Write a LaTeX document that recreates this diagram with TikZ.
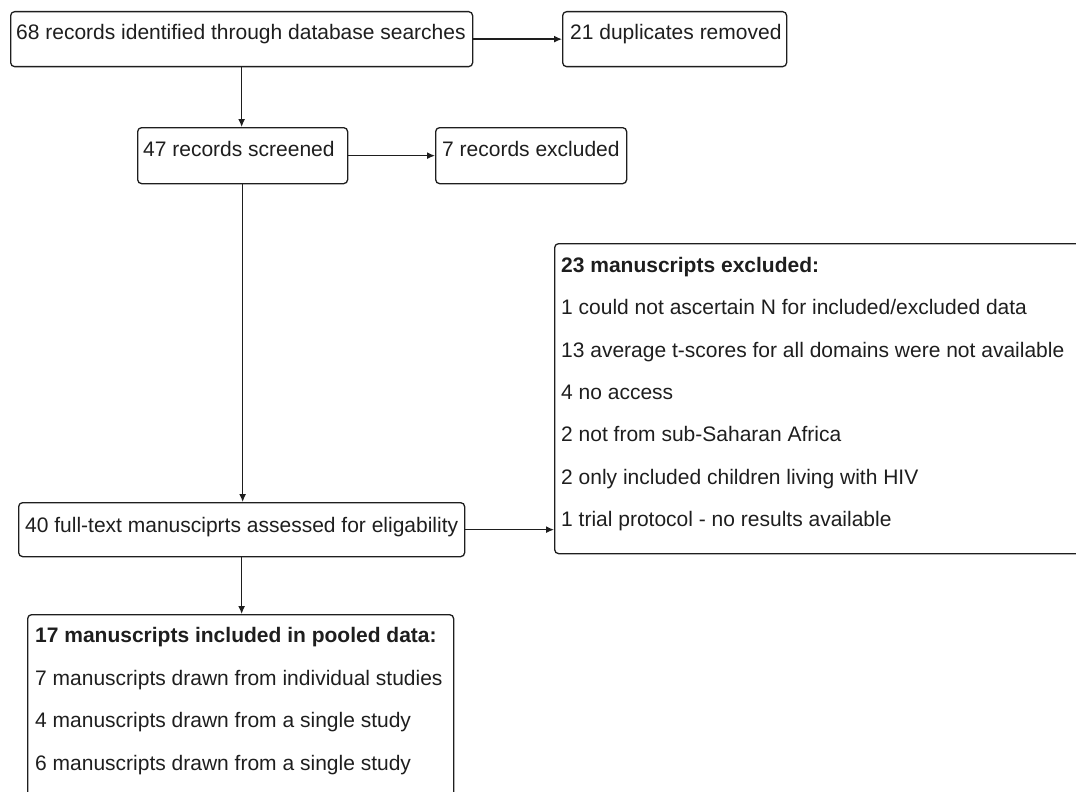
\documentclass[tikz,border=0pt]{standalone}
\usepackage{fontspec}
\setmainfont{Liberation Sans}
\usetikzlibrary{arrows.meta,calc}
\definecolor{ink}{RGB}{30,30,30}
\begin{document}
\begin{tikzpicture}[x=1pt,y=-1pt,
  box/.style={draw=ink, line width=1.3pt, rounded corners=4pt, inner sep=0pt, anchor=north west},
  txt/.style={anchor=base west, inner sep=0pt, text=ink, font=\fontsize{21}{25}\selectfont},
  hd/.style={anchor=base west, inner sep=0pt, text=ink, font=\fontsize{21}{25}\selectfont\bfseries},
  conn/.style={draw=ink, line width=1.3pt, -{Latex[length=8pt,width=7pt]}}]
\useasboundingbox (0,0) rectangle (1076,792);
\clip (0,0) rectangle (1076,792);

% boxes
\node[box, minimum width=462pt, minimum height=55pt] (b1) at (10,11) {};
\node[box, minimum width=224pt, minimum height=55pt] (b2) at (562,11) {};
\node[box, minimum width=210pt, minimum height=56pt] (b3) at (137,127) {};
\node[box, minimum width=191pt, minimum height=56pt] (b4) at (435,127) {};
\node[box, minimum width=446pt, minimum height=54pt] (b5) at (18,502) {};
\node[box, minimum width=560pt, minimum height=310pt] (b6) at (554,243) {};
\node[box, minimum width=426pt, minimum height=230pt] (b7) at (27,614) {};

% single-line texts
\node[txt] (t1) at ($(b1.north west)+(6,29)$) {68 records identified through database searches};
\node[txt] (t2) at ($(b2.north west)+(8,29)$) {21 duplicates removed};
\node[txt] (t3) at ($(b3.north west)+(6,29.5)$) {47 records screened};
\node[txt] (t4) at ($(b4.north west)+(7,29.5)$) {7 records excluded};
\node[txt] (t5) at ($(b5.north west)+(7,30)$) {40 full-text manusciprts assessed for eligability};

% exclusion list
\node[hd]  (e0) at ($(b6.north west)+(7,29.5)$) {23 manuscripts excluded:};
\node[txt] (e1) at ($(e0.base west)+(0,42.3)$) {1 could not ascertain N for included/excluded data};
\node[txt] (e2) at ($(e1.base west)+(0,42.3)$) {13 average t-scores for all domains were not available};
\node[txt] (e3) at ($(e2.base west)+(0,42.3)$) {4 no access};
\node[txt] (e4) at ($(e3.base west)+(0,42.3)$) {2 not from sub-Saharan Africa};
\node[txt] (e5) at ($(e4.base west)+(0,42.3)$) {2 only included children living with HIV};
\node[txt] (e6) at ($(e5.base west)+(0,42.3)$) {1 trial protocol - no results available};

% inclusion list
\node[hd]  (i0) at ($(b7.north west)+(8,28.5)$) {17 manuscripts included in pooled data:};
\node[txt] (i1) at ($(i0.base west)+(0,42.6)$) {7 manuscripts drawn from individual studies};
\node[txt] (i2) at ($(i1.base west)+(0,42.6)$) {4 manuscripts drawn from a single study};
\node[txt] (i3) at ($(i2.base west)+(0,42.6)$) {6 manuscripts drawn from a single study};

% connectors
\draw[conn] (b1.east) -- (b1.east -| b2.west);
\draw[conn] (b1.south) -- (b1.south |- b3.north);
\draw[conn] (b3.east) -- (b3.east -| b4.west);
\draw[conn] (b3.south) -- (b3.south |- b5.north);
\draw[conn] (b5.east) -- (b5.east -| b6.west);
\draw[conn] (b5.south) -- (b5.south |- b7.north);
\end{tikzpicture}
\end{document}
